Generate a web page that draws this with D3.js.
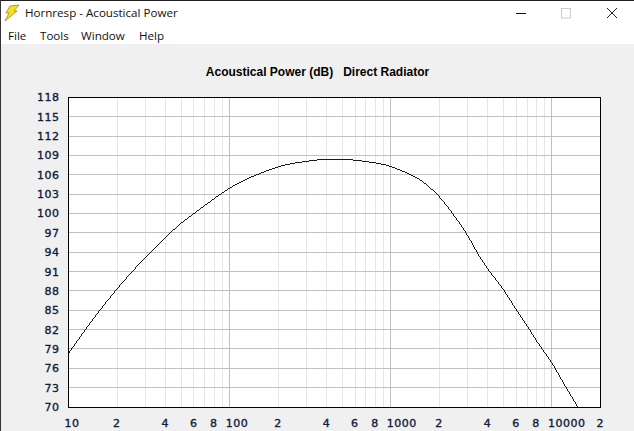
<!DOCTYPE html>
<html>
<head>
<meta charset="utf-8">
<script src="https://cdn.jsdelivr.net/npm/d3@7"></script>
<style>
html,body{margin:0;padding:0;background:#f0f0f0;overflow:hidden}
svg{display:block}
</style>
</head>
<body>
<svg id="c" width="634" height="431"></svg>
<script>
const windowTitle = "Hornresp - Acoustical Power";
const menuLabels = ["File","Tools","Window","Help"];
const chartTitle = "Acoustical Power (dB)   Direct Radiator";
const dbTicks = [70,73,76,79,82,85,88,91,94,97,100,103,106,109,112,115,118];
const gridDb = [73,76,79,82,85,88,91,94,97,100,103,106,109,112,115];
const majorFreqs = [100,1000,10000];
const minorFreqs = [20,30,40,50,60,70,80,90,200,300,400,500,600,700,800,900,2000,3000,4000,5000,6000,7000,8000,9000];
const labelledFreqs = [10,20,40,60,80,100,200,400,600,800,1000,2000,4000,6000,8000,10000,20000];
const freqLabels = ["10","2","4","6","8","100","2","4","6","8","1000","2","4","6","8","10000","2"];
const freqs = [10,15,20,30,40,50,60,70,80,100,150,200,300,400,500,600,700,800,1000,1074,1331,1535,1772,2000,2417,2925,3370,3640,4000,5000,6000,7000,8000,10000,12000,14460];
const powerDb = [78.3,84.4,88.3,93.2,96.3,98.5,100,101.25,102.3,103.95,106.1,107.25,108.1,108.4,108.42,108.28,108.08,107.85,107.3,107,106,105.15,103.9,102.6,100,97,94.35,92.9,91.4,88.2,85.1,82.6,80.3,76.8,73.4,70];

const svg = d3.select("#c");
const x = d3.scaleLog().domain([10,20000]).range([68.5,600.5]);
const y = d3.scaleLinear().domain([70,118]).range([407,97.5]);
const [L,R] = x.range(), [B,T] = y.range();

// window chrome
svg.append("rect").attr("width",634).attr("height",44).attr("fill","#fff");
svg.append("rect").attr("width",634).attr("height",1).attr("fill","#222");
svg.append("rect").attr("width",1).attr("height",431).attr("fill","#333");
svg.append("path").attr("d","M10 6 L19 5 L14 11 L17 11 L5 21 L9 13 L6 13 Z").attr("fill","#f6e11c").attr("stroke","#7a6a10").attr("stroke-width",0.6);
const ui = "'Open Sans','Noto Sans',sans-serif";
svg.append("text").attr("x",25).attr("y",17).attr("font-family",ui).attr("font-size",11.6).attr("fill","#111").text(windowTitle);
svg.selectAll(".menu").data(menuLabels).join("text").attr("class","menu")
  .attr("x",(d,i)=>[8,40,81,139][i]).attr("y",40).attr("font-family",ui).attr("font-size",11.6).attr("fill","#111").text(d=>d);
svg.append("line").attr("x1",516).attr("x2",526).attr("y1",13.5).attr("y2",13.5).attr("stroke","#111");
svg.append("rect").attr("x",561.5).attr("y",8.5).attr("width",9).attr("height",9.5).attr("fill","none").attr("stroke","#ccc");
svg.append("path").attr("d","M607 8 L617 18 M617 8 L607 18").attr("stroke","#222").attr("fill","none");

// chart title
svg.append("text").attr("x",317.5).attr("y",76).attr("text-anchor","middle").attr("xml:space","preserve")
  .style("white-space","pre").attr("font-family","'Liberation Sans',sans-serif").attr("font-weight","bold").attr("font-size",12).attr("fill","#000").text(chartTitle);

// plot
svg.append("rect").attr("x",L).attr("y",T).attr("width",R-L).attr("height",B-T).attr("fill","#fff");
const grid = svg.append("g").attr("shape-rendering","crispEdges").attr("fill","none");
grid.selectAll(".minor").data(minorFreqs).join("line").attr("x1",d=>x(d)).attr("x2",d=>x(d)).attr("y1",T).attr("y2",B).attr("stroke","#e6e6e6");
grid.selectAll(".h").data(gridDb).join("line").attr("x1",L).attr("x2",R).attr("y1",d=>y(d)).attr("y2",d=>y(d)).attr("stroke","#c0c0c0");
grid.selectAll(".major").data(majorFreqs).join("line").attr("x1",d=>x(d)).attr("x2",d=>x(d)).attr("y1",T).attr("y2",B).attr("stroke","#c0c0c0");

svg.append("path").datum(freqs.map((f,i)=>[f,powerDb[i]]))
  .attr("d",d3.line().x(d=>x(d[0])).y(d=>y(d[1])).curve(d3.curveMonotoneX))
  .attr("fill","none").attr("stroke","#000").attr("stroke-width",0.9).attr("shape-rendering","crispEdges");

svg.append("rect").attr("x",L).attr("y",T).attr("width",R-L).attr("height",B-T).attr("fill","none").attr("stroke","#000").attr("stroke-width",1).attr("shape-rendering","crispEdges");

// axes
const tickFont = "'DejaVu Sans',sans-serif";
const styleTicks = s => s.attr("font-family",tickFont).attr("font-size",11).attr("font-weight",400).attr("letter-spacing",0.5).attr("fill","#10203a").attr("stroke","#10203a").attr("stroke-width",0.35);
const ax = svg.append("g").attr("transform",`translate(0,${B})`)
  .call(d3.axisBottom(x).tickValues(labelledFreqs).tickSize(0).tickFormat((d,i)=>freqLabels[i]));
ax.select(".domain").remove();
ax.selectAll("text").attr("text-anchor","start").attr("dx",-4.5).attr("y",0).attr("dy",19.5).call(styleTicks);
const ay = svg.append("g").attr("transform",`translate(${L},0)`)
  .call(d3.axisLeft(y).tickValues(dbTicks).tickSize(0).tickFormat(d=>d));
ay.select(".domain").remove();
ay.selectAll("text").attr("x",-9).attr("dy",3.4).call(styleTicks);
</script>
</body>
</html>
